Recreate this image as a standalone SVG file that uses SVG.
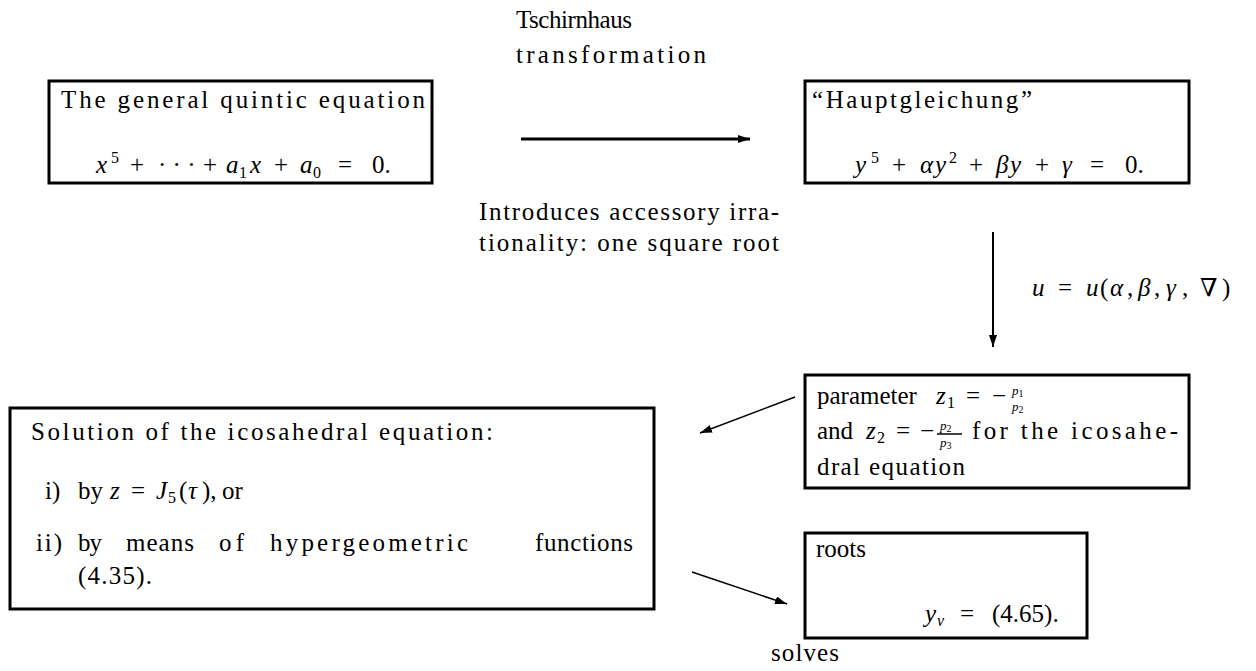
<svg xmlns="http://www.w3.org/2000/svg" width="1256" height="671" viewBox="0 0 1256 671">
<defs>
<style>
text{font-family:"Liberation Serif","DejaVu Serif",serif;font-size:25px;fill:#000}
.i{font-style:italic}
.s{font-size:16px}
.f{font-size:13px;font-style:italic}
.box{fill:#fff;stroke:#000;stroke-width:3}
.c{stroke:#000;fill:none}
</style>
<marker id="ah" markerUnits="userSpaceOnUse" markerWidth="13" markerHeight="8" refX="12" refY="4" orient="auto">
<path d="M0,0 L12,4 L0,8 z" fill="#000"/>
</marker>
</defs>
<rect width="1256" height="671" fill="#fff"/>

<g id="connectors">
<line class="c" x1="521" y1="139" x2="750" y2="139" stroke-width="3" marker-end="url(#ah)"/>
<text x="516" y="28" textLength="116">Tschirnhaus</text>
<text x="516" y="63" textLength="190">transformation</text>
<text x="479" y="220" textLength="300">Introduces accessory irra-</text>
<text x="479" y="251" textLength="300">tionality: one square root</text>
<line class="c" x1="993" y1="232" x2="993" y2="347" stroke-width="2" marker-end="url(#ah)"/>
<text y="296"><tspan x="1032" class="i">u</tspan><tspan x="1058">=</tspan><tspan x="1086" class="i">u</tspan><tspan x="1100">(</tspan><tspan x="1110" class="i">α</tspan><tspan x="1127">,</tspan><tspan x="1138" class="i">β</tspan><tspan x="1154">,</tspan><tspan x="1166" class="i">γ</tspan><tspan x="1182">,</tspan><tspan x="1200">∇</tspan><tspan x="1222">)</tspan></text>
<line class="c" x1="795" y1="397" x2="700" y2="433" stroke-width="1.6" marker-end="url(#ah)"/>
<line class="c" x1="692" y1="572" x2="787" y2="604" stroke-width="1.6" marker-end="url(#ah)"/>
<text x="771" y="661" textLength="68">solves</text>
</g>

<g id="quintic">
<rect class="box" x="49" y="81" width="383" height="102"/>
<text x="61" y="108" textLength="364">The general quintic equation</text>
<text y="173"><tspan x="96" class="i">x</tspan><tspan x="111" y="163" class="s">5</tspan><tspan x="130" y="173">+</tspan><tspan x="158">· · ·</tspan><tspan x="203">+</tspan><tspan x="226" class="i">a</tspan><tspan x="239" y="178" class="s">1</tspan><tspan x="250" y="173" class="i">x</tspan><tspan x="274">+</tspan><tspan x="300" class="i">a</tspan><tspan x="313" y="178" class="s">0</tspan><tspan x="338" y="173">=</tspan><tspan x="372">0.</tspan></text>
</g>

<g id="hauptgleichung">
<rect class="box" x="805" y="81" width="384" height="102"/>
<text x="812" y="108" textLength="220">“Hauptgleichung”</text>
<text y="173"><tspan x="855" class="i">y</tspan><tspan x="871" y="163" class="s">5</tspan><tspan x="892" y="173">+</tspan><tspan x="920" class="i">α</tspan><tspan x="935" class="i">y</tspan><tspan x="949" y="163" class="s">2</tspan><tspan x="969" y="173">+</tspan><tspan x="996" class="i">β</tspan><tspan x="1010" class="i">y</tspan><tspan x="1035">+</tspan><tspan x="1062" class="i">γ</tspan><tspan x="1090">=</tspan><tspan x="1125">0.</tspan></text>
</g>

<g id="parameter">
<rect class="box" x="805" y="375" width="384" height="113"/>
<text y="404"><tspan x="817">parameter</tspan><tspan x="936" class="i">z</tspan><tspan x="947" y="408" class="s">1</tspan><tspan x="966" y="404">=</tspan><tspan x="992">−</tspan></text>
<text x="1012" y="395" class="f">p<tspan font-style="normal" font-size="10" dy="2">1</tspan></text>
<text x="1012" y="411" class="f">p<tspan font-style="normal" font-size="10" dy="2">2</tspan></text>
<text y="439"><tspan x="817">and</tspan><tspan x="866" class="i">z</tspan><tspan x="877" y="443" class="s">2</tspan><tspan x="896" y="439">=</tspan><tspan x="920">−</tspan></text>
<text x="940" y="430" class="f">p<tspan font-style="normal" font-size="10" dy="2">2</tspan></text>
<line x1="937" y1="434" x2="962" y2="434" stroke="#000" stroke-width="1.5"/>
<text x="940" y="447" class="f">p<tspan font-style="normal" font-size="10" dy="2">3</tspan></text>
<text x="972" y="439" textLength="206">for the icosahe-</text>
<text x="817" y="475" textLength="148">dral equation</text>
</g>

<g id="icosahedral">
<rect class="box" x="10" y="408" width="644" height="201"/>
<text x="31" y="440" textLength="462">Solution of the icosahedral equation:</text>
<text y="499"><tspan x="45">i)</tspan><tspan x="78">by</tspan><tspan x="110" class="i">z</tspan><tspan x="131">=</tspan><tspan x="156" class="i">J</tspan><tspan x="168" y="503" class="s">5</tspan><tspan x="179" y="499">(</tspan><tspan x="188" class="i">τ</tspan><tspan x="202">),</tspan><tspan x="222">or</tspan></text>
<text x="36" y="551" textLength="26">ii)</text>
<text x="78" y="551" textLength="24">by</text>
<text x="126" y="551" textLength="68">means</text>
<text x="219" y="551" textLength="25">of</text>
<text x="270" y="551" textLength="198">hypergeometric</text>
<text x="535" y="551" textLength="98">functions</text>
<text x="78" y="584" textLength="74">(4.35).</text>
</g>

<g id="roots">
<rect class="box" x="805" y="533" width="282" height="105"/>
<text x="816" y="557">roots</text>
<text y="622"><tspan x="925" class="i">y</tspan><tspan x="937" y="626" class="s" font-style="italic">ν</tspan><tspan x="960" y="622">=</tspan><tspan x="992">(4.65).</tspan></text>
</g>
</svg>
